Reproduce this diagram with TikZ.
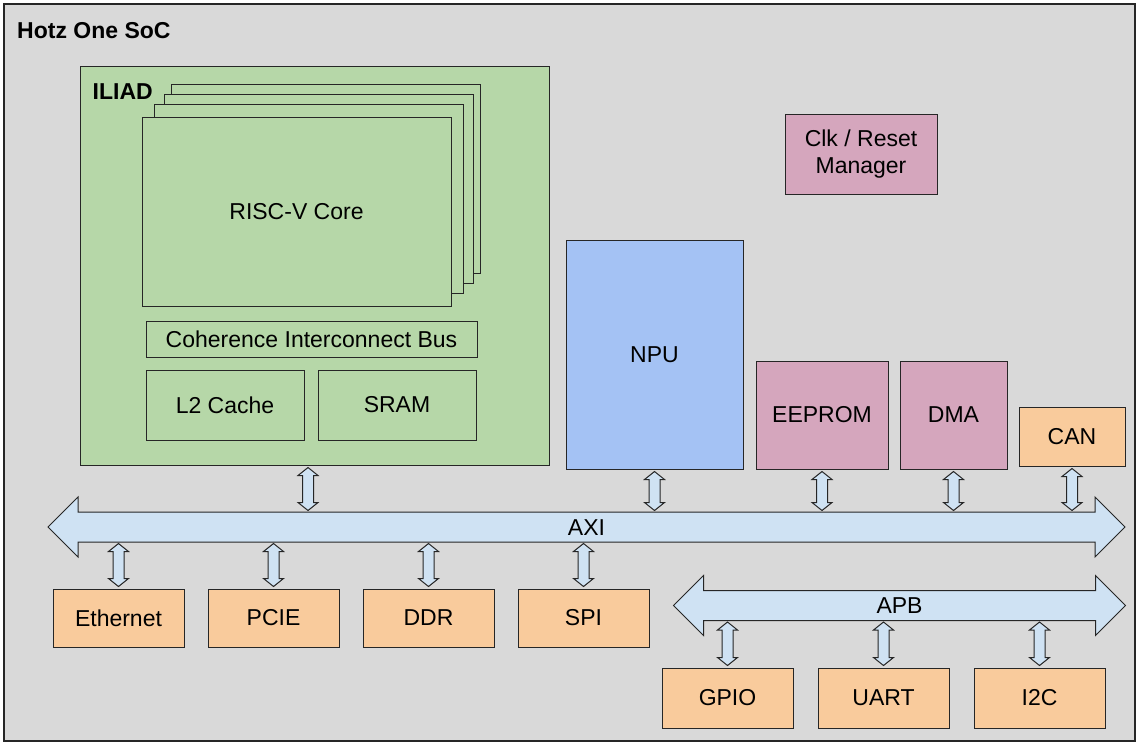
\documentclass[tikz,border=0pt]{standalone}
\usepackage{fontspec}
\setmainfont{Liberation Sans}
\usetikzlibrary{positioning, shapes.arrows, calc}
\definecolor{socgray}{HTML}{D9D9D9}
\definecolor{iliadgreen}{HTML}{B6D7A8}
\definecolor{npublue}{HTML}{A4C2F4}
\definecolor{sysrose}{HTML}{D5A6BD}
\definecolor{ioorange}{HTML}{F9CB9C}
\definecolor{buscyan}{HTML}{CFE2F3}
\definecolor{rimgray}{HTML}{262626}
\tikzset{
    x=1pt, y=-1pt, % pixel grid of the drawing, y runs downwards
    block/.style={draw=rimgray, line width=1pt, inner sep=0pt, align=center,
        font=\fontsize{23}{27}\selectfont}, % every box of the SoC
    title/.style={anchor=west, inner sep=0pt, font=\fontsize{23}{27}\selectfont\bfseries},
    core/.style={block, fill=iliadgreen},
    rose/.style={block, fill=sysrose},
    io/.style={block, fill=ioorange, minimum width=131pt},
    bus/.style={double arrow, draw=rimgray, line width=1pt, fill=buscyan,
        double arrow head extend=15pt, inner xsep=0pt, inner ysep=0pt,
        text height=22.75pt, text depth=6.25pt, font=\fontsize{23}{27}\selectfont},
    link/.style={draw=rimgray, line width=1pt, fill=buscyan, to path={
        let \p1=(\tikztostart), \p2=(\tikztotarget) in
        (\x1,\y1-2pt) -- (\x1+10pt,\y1-10pt) -- (\x1+5.5pt,\y1-10pt)
        -- (\x1+5.5pt,\y2+10pt) -- (\x1+10pt,\y2+10pt) -- (\x1,\y2+2pt)
        -- (\x1-10pt,\y2+10pt) -- (\x1-5.5pt,\y2+10pt) -- (\x1-5.5pt,\y1-10pt)
        -- (\x1-10pt,\y1-10pt) -- cycle}}, % fat two-headed connector
}
\begin{document}
\begin{tikzpicture}
    \useasboundingbox (0,0) rectangle (1139,745);
    % SoC frame
    \node[block, fill=socgray, line width=1.2pt, minimum width=1131pt, minimum height=737pt] (soc) at (569.5,372.5) {};
    \node[title] (soc title) at (17,31) {Hotz One SoC};

    % ILIAD cluster
    \node[core, minimum width=469pt, minimum height=399pt] (iliad) at (314.5,265.5) {};
    \node[title] (iliad title) at (92.5,92) {ILIAD};
    \foreach \dx/\dy [count=\i] in {29.5/-33, 22.5/-23, 12/-13}
        \node[core, minimum width=309pt, minimum height=189pt] (core back \i) at (296.5+\dx,211.5+\dy) {};
    \node[core, minimum width=309pt, minimum height=189pt] (core) at (296.5,211.5) {RISC-V Core};
    \node[core, minimum width=331pt, minimum height=36pt] (cib) at (311.5,339) {Coherence Interconnect Bus};
    \node[core, minimum width=158pt, minimum height=70pt] (l2) at (225,405) {L2 Cache};
    \node[core, minimum width=158pt, minimum height=70pt, right=13pt of l2] (sram) {SRAM};

    % masters and system blocks
    \node[block, fill=npublue, minimum width=177pt, minimum height=229pt] (npu) at (654.5,354.5) {NPU};
    \node[rose, minimum width=132pt, minimum height=108pt] (eeprom) at (822,415) {EEPROM};
    \node[rose, minimum width=107pt, minimum height=108pt, right=11pt of eeprom] (dma) {DMA};
    \node[io, minimum width=106pt, minimum height=59pt] (can) at (1072,436.5) {CAN};
    \node[rose, minimum width=152pt, minimum height=80pt] (clk) at (861,154.5) {Clk / Reset\\Manager};

    % buses
    \node[bus, minimum height=1077pt] (axi) at (586.5,527) {AXI};
    \node[bus, minimum height=452pt] (apb) at (899.5,605.5) {APB};
    \coordinate (axi top) at ([yshift=14.5pt]axi.center);
    \coordinate (axi bottom) at ([yshift=-14.5pt]axi.center);
    \coordinate (apb bottom) at ([yshift=-14.5pt]apb.center);
    \coordinate (iliad port) at ([xshift=-6.5pt]iliad.south);

    % peripherals
    \node[io, minimum height=58pt] (eth) at (118.5,618) {Ethernet};
    \node[io, minimum height=58pt, right=23pt of eth] (pcie) {PCIE};
    \node[io, minimum height=58pt, right=23pt of pcie] (ddr) {DDR};
    \node[io, minimum height=58pt, right=23pt of ddr] (spi) {SPI};
    \node[io, minimum height=60pt] (gpio) at (727.5,698) {GPIO};
    \node[io, minimum height=60pt, right=24pt of gpio] (uart) {UART};
    \node[io, minimum height=60pt, right=24pt of uart] (i2c) {I2C};

    % links
    \path   (iliad port) edge[link] (iliad port |- axi top)
            (npu.south) edge[link] (npu.south |- axi top)
            (eeprom.south) edge[link] (eeprom.south |- axi top)
            (dma.south) edge[link] (dma.south |- axi top)
            (can.south) edge[link] (can.south |- axi top)

            (eth.north |- axi bottom) edge[link] (eth.north)
            (pcie.north |- axi bottom) edge[link] (pcie.north)
            (ddr.north |- axi bottom) edge[link] (ddr.north)
            (spi.north |- axi bottom) edge[link] (spi.north)

            (gpio.north |- apb bottom) edge[link] (gpio.north)
            (uart.north |- apb bottom) edge[link] (uart.north)
            (i2c.north |- apb bottom) edge[link] (i2c.north)
            ;
\end{tikzpicture}
\end{document}
